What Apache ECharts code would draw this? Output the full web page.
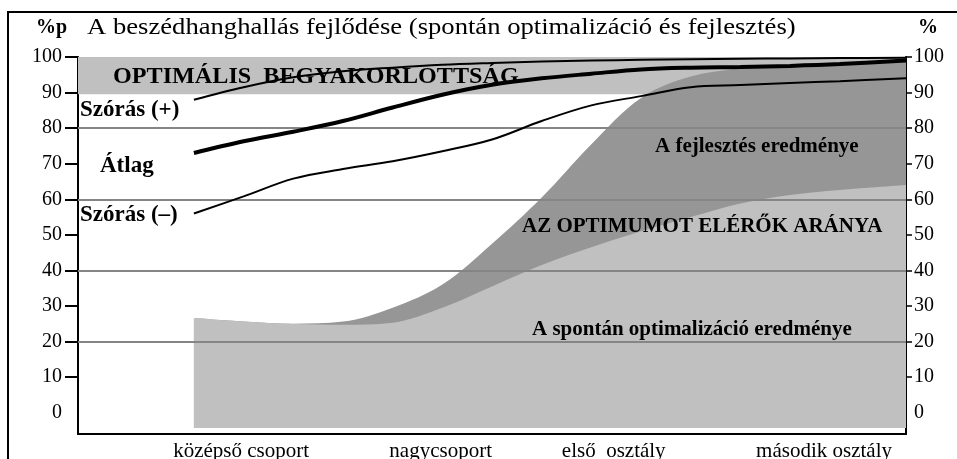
<!DOCTYPE html>
<html>
<head>
<meta charset="utf-8">
<script src="https://cdn.jsdelivr.net/npm/echarts@6/dist/echarts.min.js"></script>
<style>
  html, body { margin: 0; padding: 0; background: #fff; }
  #chart { width: 957px; height: 459px; }
</style>
</head>
<body>
<div id="chart"></div>
<script>
'use strict';

// position on the development timeline (0 = start of axis, 100 = end)
const xs = [14, 20, 26, 32, 38, 44, 50, 56, 62, 68, 74, 80, 86, 92, 100];

// results of spontaneous optimisation (light grey area)
const spontan = [26.6, 25.6, 24.9, 24.7, 25.3, 29.5, 35.5, 41.5, 46.5, 51, 55, 58.8, 61.2, 62.6, 64];
// results of development (dark grey area)
const fejlesztes = [26.6, 25.6, 25.0, 25.6, 29.5, 36, 47.5, 60.5, 75.5, 88.5, 94.5, 96.8, 97.6, 98.2, 99];
// mean and standard deviation lines
const szorasPlus = [88, 91.5, 94.3, 96, 97, 97.8, 98.3, 98.7, 99, 99.2, 99.4, 99.5, 99.6, 99.7, 99.8];
const atlag = [73, 76.3, 79, 82, 85.8, 89.4, 92.2, 94, 95.3, 96.5, 97, 97.2, 97.5, 98, 99];
const szorasMinus = [56, 60.8, 65.8, 68.5, 70.7, 73.5, 76.8, 82, 86.4, 89, 91.5, 92.1, 92.7, 93.2, 94];

const stages = ['középső csoport', 'nagycsoport', 'első  osztály', 'második osztály'];
const stageAt = [19.7, 43.8, 64.7, 90.1];

const yTicks = [10, 20, 30, 40, 50, 60, 70, 80, 90, 100];
const yLabels = [0, 10, 20, 30, 40, 50, 60, 70, 80, 90, 100];
const gridValues = [20, 40, 60, 80];
const optimumBand = [89.5, 100];

const zip = (vals) => xs.map((x, i) => [x, vals[i]]);
const serif = 'Liberation Serif, Times New Roman, serif';

const chart = echarts.init(document.getElementById('chart'));

function lineSeries(name, vals, width) {
  return {
    name: name,
    type: 'line',
    smooth: 0.35,
    showSymbol: false,
    silent: true,
    z: 6,
    lineStyle: { color: '#000', width: width },
    data: zip(vals)
  };
}

function label(x, y, text, font, sx) {
  return {
    type: 'text', z: 100, silent: true,
    x: x, y: y, scaleX: sx || 1,
    style: { x: 0, y: 0, text: text, font: font + ' ' + serif, fill: '#000', verticalAlign: 'middle' }
  };
}

chart.setOption({
  animation: false,
  grid: { left: 78, right: 51, top: 57, bottom: 25, outerBoundsMode: 'none' },
  xAxis: {
    type: 'value',
    min: 0,
    max: 100,
    axisLine: { show: true, onZero: false, lineStyle: { color: '#000', width: 2 } },
    axisTick: { show: false },
    splitLine: { show: false },
    axisLabel: {
      customValues: stageAt,
      margin: 7,
      color: '#000',
      fontFamily: serif,
      fontSize: 21,
      formatter: (v) => {
        const i = stageAt.findIndex((s) => Math.abs(s - v) < 0.01);
        return i >= 0 ? stages[i] : '';
      }
    }
  },
  yAxis: [{
    type: 'value',
    min: -6,
    max: 100,
    position: 'left',
    axisLine: { show: true, onZero: false, lineStyle: { color: '#000', width: 2 } },
    axisTick: { show: true, customValues: yTicks, length: 13, lineStyle: { color: '#000', width: 2 } },
    axisLabel: { customValues: yLabels, margin: 16, color: '#000', fontFamily: serif, fontSize: 20 },
    splitLine: { show: false }
  }, {
    type: 'value',
    min: -6,
    max: 100,
    position: 'right',
    axisLine: { show: true, onZero: false, lineStyle: { color: '#000', width: 2 } },
    axisTick: { show: true, customValues: yTicks, length: 6, lineStyle: { color: '#000', width: 1.5 } },
    axisLabel: { customValues: yLabels, margin: 8, color: '#000', fontFamily: serif, fontSize: 20 },
    splitLine: { show: false }
  }],
  series: [
    {
      // optimal band
      type: 'line',
      data: [],
      z: 1,
      silent: true,
      markArea: {
        silent: true,
        itemStyle: { color: '#c0c0c0' },
        label: { show: false },
        data: [[{ yAxis: optimumBand[0] }, { yAxis: optimumBand[1] }]]
      }
    },
    {
      name: 'fejlesztés',
      type: 'line',
      smooth: 0.35,
      showSymbol: false,
      silent: true,
      z: 2,
      lineStyle: { width: 0 },
      areaStyle: { color: '#969696', opacity: 1, origin: -4.3 },
      data: zip(fejlesztes)
    },
    {
      name: 'spontán',
      type: 'line',
      smooth: 0.35,
      showSymbol: false,
      silent: true,
      z: 3,
      lineStyle: { width: 0 },
      areaStyle: { color: '#c0c0c0', opacity: 1, origin: -4.3 },
      data: zip(spontan)
    },
    {
      // horizontal grid lines over the areas
      type: 'line',
      data: [],
      z: 4,
      silent: true,
      markLine: {
        silent: true,
        symbol: 'none',
        label: { show: false },
        lineStyle: { color: '#858585', width: 2, type: 'solid' },
        data: gridValues.map((v) => ({ yAxis: v }))
      }
    },
    lineSeries('Szórás (+)', szorasPlus, 2),
    lineSeries('Átlag', atlag, 4),
    lineSeries('Szórás (–)', szorasMinus, 2)
  ],
  graphic: [
    { type: 'rect', silent: true, z: 100, shape: { x: 8, y: 12, width: 1000, height: 500 },
      style: { fill: 'none', stroke: '#000', lineWidth: 2 } },
    label(36, 28, '%p', 'bold 20px'),
    label(87, 28, 'A beszédhanghallás fejlődése (spontán optimalizáció és fejlesztés)', '24px', 1.11),
    label(918, 28, '%', 'bold 20px'),
    label(113, 77, 'OPTIMÁLIS  BEGYAKORLOTTSÁG', 'bold 23px', 1.05),
    label(80, 110, 'Szórás (+)', 'bold 23px'),
    label(100, 166, 'Átlag', 'bold 23px'),
    label(80, 215, 'Szórás (–)', 'bold 23px'),
    label(655, 147, 'A fejlesztés eredménye', 'bold 21px'),
    label(522, 227, 'AZ OPTIMUMOT ELÉRŐK ARÁNYA', 'bold 21px'),
    label(532, 330, 'A spontán optimalizáció eredménye', 'bold 21px')
  ]
});

window.onresize = () => {
  chart.resize();
};
</script>
</body>
</html>
